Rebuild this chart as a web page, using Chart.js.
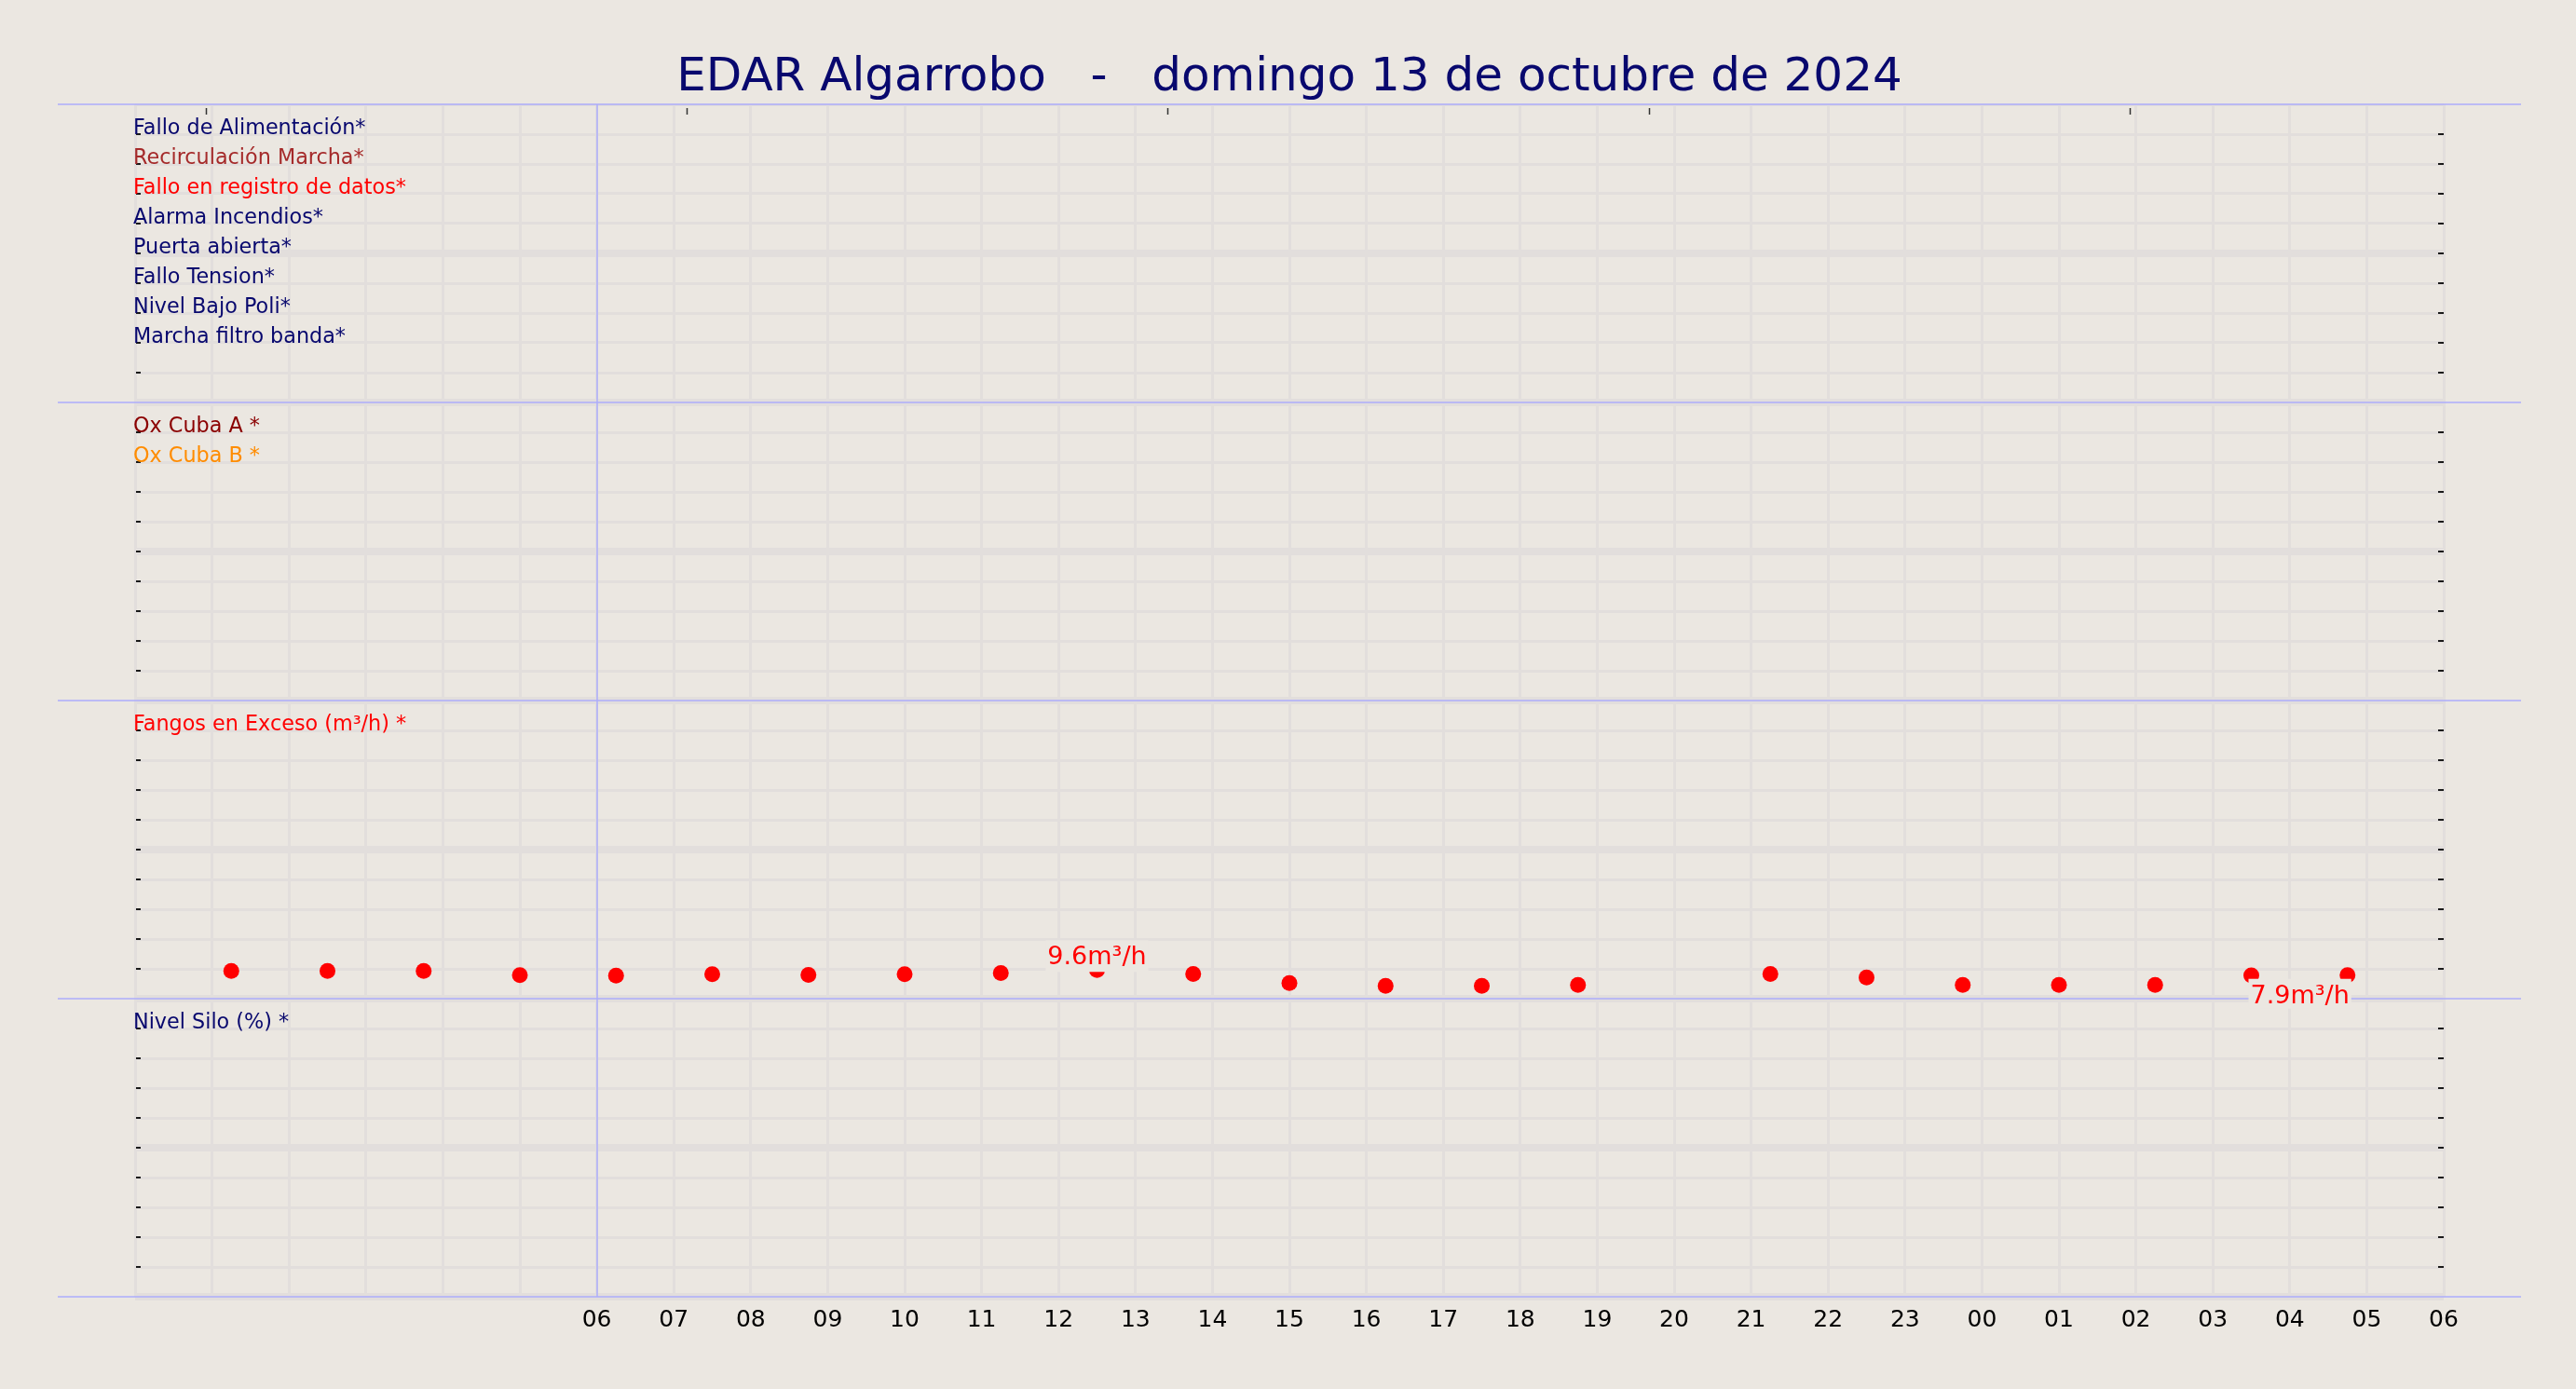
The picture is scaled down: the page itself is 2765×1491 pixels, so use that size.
<!DOCTYPE html>
<html>
<head>
<meta charset="utf-8">
<script src="https://cdn.jsdelivr.net/npm/chart.js@4.4.1/dist/chart.umd.min.js"></script>
<style>
  html, body { margin: 0; padding: 0; background: #ebe7e1; }
  #wrap { width: 2765px; height: 1491px; position: relative; }
  canvas { display: block; }
</style>
</head>
<body>
<div id="wrap"><canvas id="c" width="2765" height="1491"></canvas></div>
<script>
// ---------------- data ----------------
const chartTitle = 'EDAR Algarrobo   -   domingo 13 de octubre de 2024';

// x axis: hours from 00:00 (axis spans 0..30 h); labels only from 06 onwards
const hourTickLabels = ['', '', '', '', '', '', '06', '07', '08', '09', '10', '11', '12', '13', '14', '15',
  '16', '17', '18', '19', '20', '21', '22', '23', '00', '01', '02', '03', '04', '05', '06'];

// panel 1 (digital signals)
const panel1Names = ['Fallo de Alimentación*', 'Recirculación Marcha*', 'Fallo en registro de datos*',
  'Alarma Incendios*', 'Puerta abierta*', 'Fallo Tension*', 'Nivel Bajo Poli*', 'Marcha filtro banda*'];
const panel1Colors = ['#08086e', '#a52a2a', '#ff0000', '#08086e', '#08086e', '#08086e', '#08086e', '#08086e'];

// panel 2 (oxygen)
const panel2Names = ['Ox Cuba A *', 'Ox Cuba B *'];
const panel2Colors = ['#8b0000', '#ff8c00'];

// panel 3 (excess sludge flow)
const panel3Names = ['Fangos en Exceso (m³/h) *'];
const panel3Colors = ['#ff0000'];
const fangosHours = [1.25, 2.5, 3.75, 5.0, 6.25, 7.5, 8.75, 10.0, 11.25, 12.5, 13.75, 15.0, 16.25, 17.5,
  18.75, 20.0, 21.25, 22.5, 23.75, 25.0, 26.25, 27.5, 28.75];
const fangosValues = [9.3, 9.3, 9.3, 7.9, 7.7, 8.2, 8.0, 8.2, 8.6, 9.6, 8.3, 5.2, 4.3, 4.3,
  4.6, null, 8.3, 7.1, 4.6, 4.6, 4.6, 7.8, 7.9];
const fangosUnit = 'm³/h';

// panel 4 (silo level)
const panel4Names = ['Nivel Silo (%) *'];
const panel4Colors = ['#08086e'];

// decorations
const markerHour = 6;
const topTickHours = [0.92, 7.17, 13.42, 19.67, 25.92];
const panelSpan = 100;   // each panel is a 0..100 band of the shared y axis

// ---------------- build ----------------
const panels = [
  { names: panel1Names, colors: panel1Colors },
  { names: panel2Names, colors: panel2Colors },
  { names: panel3Names, colors: panel3Colors },
  { names: panel4Names, colors: panel4Colors }
];
const nPanels = panels.length;
const panelBase = i => (nPanels - 1 - i) * panelSpan;

const datasets = [];
panels.forEach((p, pi) => {
  p.names.forEach((name, ri) => {
    let data = [];
    if (pi === 2 && ri === 0) {
      data = fangosHours.map((h, k) => ({ x: h, y: fangosValues[k] === null ? null : panelBase(pi) + fangosValues[k] }));
    }
    datasets.push({
      label: name,
      data: data,
      showLine: false,
      borderColor: p.colors[ri],
      backgroundColor: p.colors[ri],
      pointRadius: 8.5,
      pointHoverRadius: 8.5,
      pointBorderWidth: 0,
      _panel: pi,
      _row: ri
    });
  });
});

const BG = '#ebe7e1';
const GRID = '#e2dedc';
const BLUE = '#adadfb';
const FONT = 'DejaVu Sans';

const decor = {
  id: 'decor',
  beforeDraw(chart) {
    const ctx = chart.ctx;
    ctx.save();
    ctx.fillStyle = BG;
    ctx.fillRect(0, 0, chart.width, chart.height);
    ctx.restore();
  },
  afterDraw(chart) {
    const { ctx, chartArea: a, scales: { x, y } } = chart;
    ctx.save();
    // blue panel separators
    ctx.strokeStyle = BLUE;
    ctx.lineWidth = 1.5;
    for (let i = 0; i <= nPanels; i++) {
      const py = Math.round(y.getPixelForValue(i * panelSpan));
      ctx.beginPath();
      ctx.moveTo(a.left - 83, py);
      ctx.lineTo(a.right + 83, py);
      ctx.stroke();
    }
    // blue vertical marker
    const mx = Math.round(x.getPixelForValue(markerHour));
    ctx.beginPath();
    ctx.moveTo(mx, a.top);
    ctx.lineTo(mx, a.bottom);
    ctx.stroke();

    // small inward tick dashes on both sides
    ctx.strokeStyle = '#1a1a1a';
    ctx.lineWidth = 2;
    for (let v = 0; v <= nPanels * panelSpan; v += 10) {
      if (v % panelSpan === 0) continue;
      const py = Math.round(y.getPixelForValue(v));
      ctx.beginPath();
      ctx.moveTo(a.left + 1, py); ctx.lineTo(a.left + 6, py);
      ctx.moveTo(a.right - 6, py); ctx.lineTo(a.right, py);
      ctx.stroke();
    }
    // top ticks
    ctx.lineWidth = 1.5;
    ctx.strokeStyle = '#333';
    topTickHours.forEach(h => {
      const px = Math.round(x.getPixelForValue(h)) + 0.5;
      ctx.beginPath();
      ctx.moveTo(px, a.top + 4); ctx.lineTo(px, a.top + 11);
      ctx.stroke();
    });

    // series names inside each panel
    ctx.font = '22.3px "' + FONT + '"';
    ctx.textAlign = 'left';
    ctx.textBaseline = 'alphabetic';
    chart.data.datasets.forEach(ds => {
      const v = panelBase(ds._panel) + panelSpan - 10 * (ds._row + 1);
      ctx.fillStyle = ds.borderColor;
      ctx.fillText(ds.label, a.left - 2, y.getPixelForValue(v));
    });

    // value annotations: max and last
    ctx.font = '27px "' + FONT + '"';
    let maxI = -1, lastI = -1;
    fangosValues.forEach((v, i) => {
      if (v === null) return;
      if (maxI < 0 || v > fangosValues[maxI]) maxI = i;
      lastI = i;
    });
    const base3 = panelBase(2);
    const drawLabel = (i, mode) => {
      const txt = fangosValues[i].toFixed(1) + fangosUnit;
      const px = x.getPixelForValue(fangosHours[i]);
      const py = y.getPixelForValue(base3 + fangosValues[i]);
      const w = ctx.measureText(txt).width;
      let left, baseY;
      if (mode === 'above') { left = px - w / 2; baseY = py - 6; }
      else { left = px + 2 - w; baseY = py + 30; }
      ctx.fillStyle = BG;
      if (mode === 'above') ctx.fillRect(left - 2, baseY - 26, w + 4, 34);
      else ctx.fillRect(left - 2, py + 4, w + 4, 32);
      ctx.fillStyle = '#ff0000';
      ctx.textAlign = 'left';
      ctx.fillText(txt, left, baseY);
    };
    drawLabel(maxI, 'above');
    drawLabel(lastI, 'below');
    ctx.restore();
  }
};

Chart.defaults.font.family = FONT;

new Chart(document.getElementById('c'), {
  type: 'scatter',
  data: { datasets },
  options: {
    responsive: false,
    animation: false,
    devicePixelRatio: 1,
    layout: { padding: { left: 145, right: 142, top: 0, bottom: 39 } },
    plugins: {
      legend: { display: false },
      tooltip: { enabled: false },
      title: {
        display: true,
        text: chartTitle,
        color: '#08086e',
        font: { size: 50, weight: 'normal', family: FONT, lineHeight: 1.1 },
        padding: { top: 57, bottom: 0 }
      }
    },
    scales: {
      x: {
        type: 'linear',
        min: 0, max: hourTickLabels.length - 1,
        border: { display: false },
        grid: { color: GRID, lineWidth: 3, drawTicks: false },
        ticks: {
          stepSize: 1, autoSkip: false, maxRotation: 0, maxTicksLimit: 200,
          color: '#000', font: { size: 25, family: FONT }, padding: 10,
          callback: (v, i) => hourTickLabels[i]
        },
        afterFit: s => { s.height = 60; }
      },
      y: {
        min: 0, max: nPanels * panelSpan,
        border: { display: false },
        grid: {
          color: GRID, drawTicks: false,
          lineWidth: c => (c.tick && c.tick.value % 50 === 0 && c.tick.value !== nPanels * panelSpan) ? 8 : 3
        },
        ticks: { display: false, stepSize: 10, autoSkip: false, maxTicksLimit: 200 },
        afterFit: s => { s.width = 0; }
      }
    }
  },
  plugins: [decor]
});
</script>
</body>
</html>
